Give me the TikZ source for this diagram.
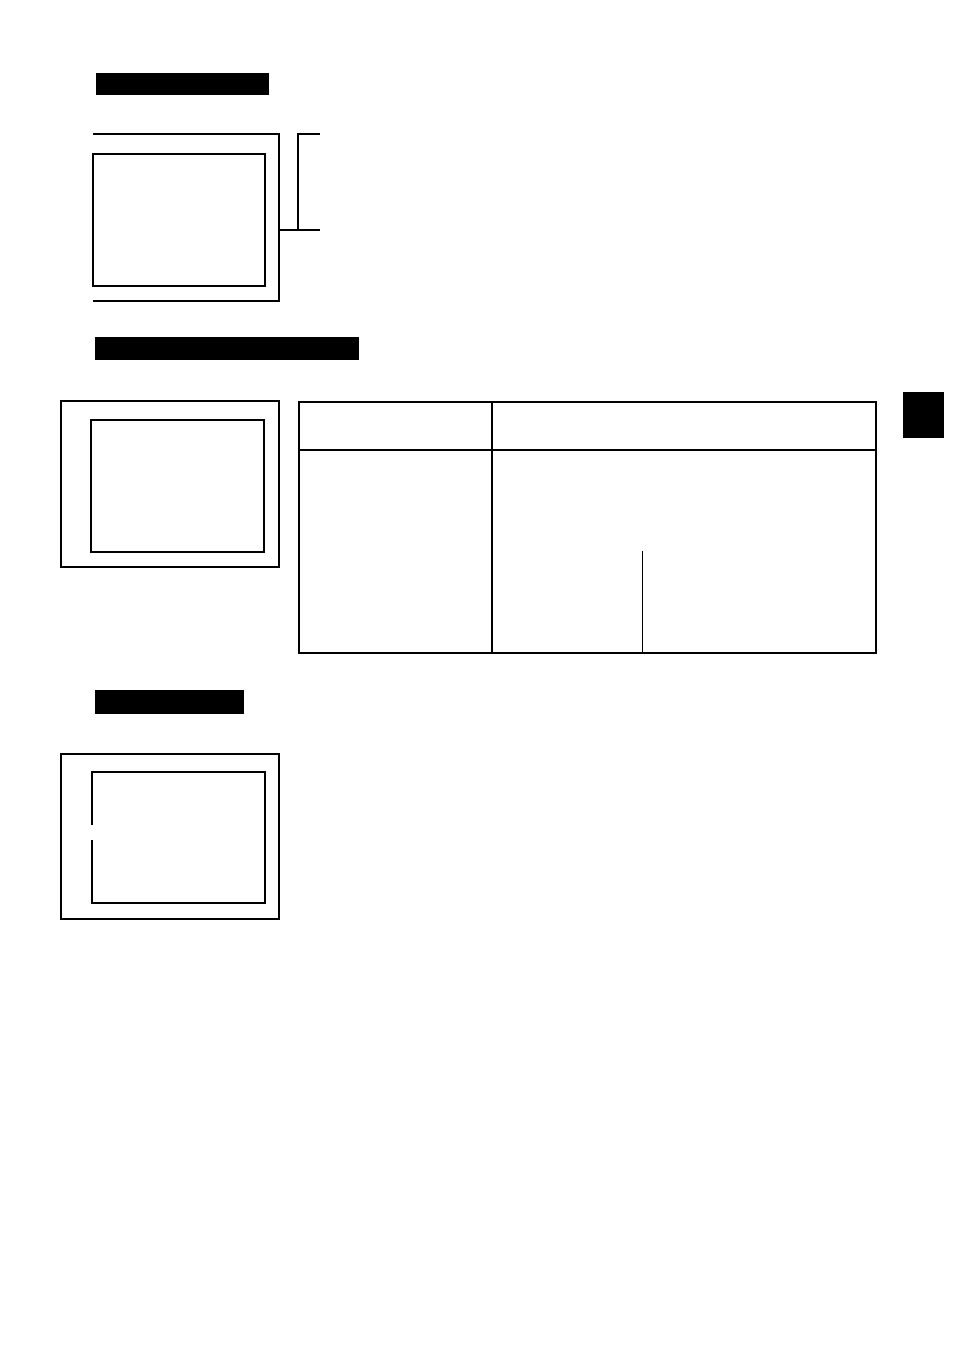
\documentclass[tikz,border=0pt]{standalone}
\usepackage{tikz}

\tikzset{
  frameline/.style={line width=1.4pt, black},
  thinline/.style={line width=0.9pt, black},
  headbar/.style={fill=black, draw=none}
}

\begin{document}
\begin{tikzpicture}[x=1pt,y=-1pt]
    \useasboundingbox (0,0) rectangle (954,1350);
    % section 1
    \fill[headbar] (96,73) rectangle (269,95);
    \draw [frameline] (93,134) -- (279,134) -- (279,301) -- (93,301);
    \draw [frameline] (93,154) rectangle (265,286);
    \draw [frameline] (320,134) -- (298,134) -- (298,230);
    \draw [frameline] (279,230) -- (320,230);
    % section 2
    \fill[headbar] (95,337) rectangle (359,360);
    \draw [frameline] (61,401) rectangle (279,567);
    \draw [frameline] (91,420) rectangle (264,552);
    \draw [frameline] (299,402) rectangle (876,653);
    \draw [frameline] (299,450) -- (876,450);
    \draw [frameline] (492,402) -- (492,653);
    \draw [thinline] (642,551) -- (642,653);
    \fill[headbar] (903,392) rectangle (944,438);
    % section 3
    \fill[headbar] (95,690) rectangle (244,714);
    \draw [frameline] (61,754) rectangle (279,919);
    \draw [frameline] (92,825) -- (92,772) -- (265,772) -- (265,903) -- (92,903) -- (92,840);
  \end{tikzpicture}
\end{document}
